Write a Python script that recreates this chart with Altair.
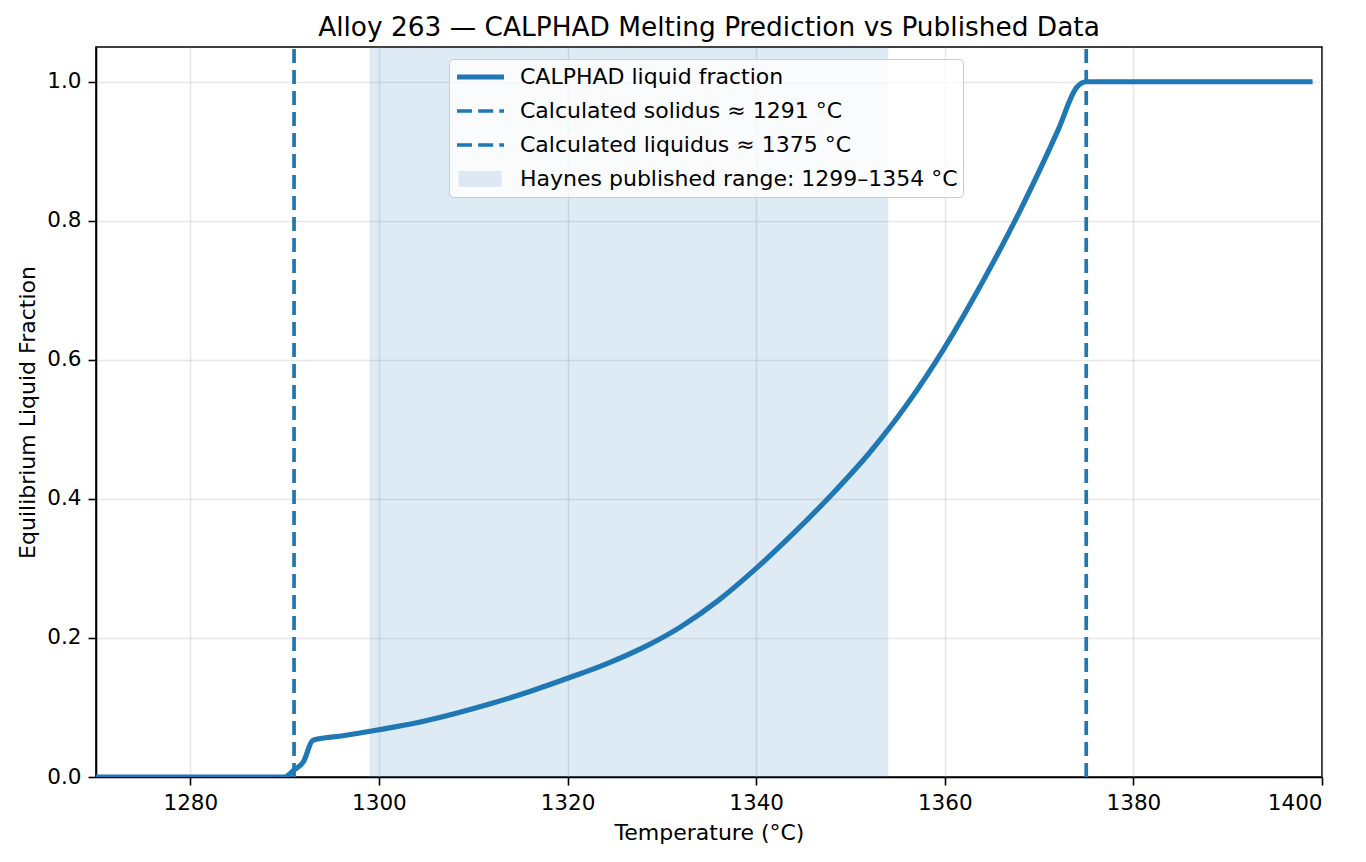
import altair as alt
import pandas as pd

# ---------------- data ----------------
TEMPS = [1270, 1290, 1291, 1292, 1293, 1296, 1300, 1304, 1308, 1312, 1316,
         1320, 1324, 1328, 1332, 1336, 1340, 1344, 1348, 1352, 1356, 1360,
         1364, 1368, 1372, 1374, 1375, 1399]
FRACTION = [0.0, 0.0, 0.010, 0.022, 0.053, 0.059, 0.068, 0.078, 0.091, 0.106,
            0.123, 0.142, 0.162, 0.186, 0.216, 0.254, 0.300, 0.351, 0.406,
            0.466, 0.536, 0.618, 0.712, 0.815, 0.930, 0.992, 1.0, 1.0]
SOLIDUS = [1291]
LIQUIDUS = [1375]
BAND_START = [1299]
BAND_END = [1354]

X_DOMAIN = [1270, 1400]
Y_DOMAIN = [0, 1.05]
X_TICKS = [1280, 1300, 1320, 1340, 1360, 1380, 1400]
Y_TICKS = [0.0, 0.2, 0.4, 0.6, 0.8, 1.0]

LEGEND_LABELS = [
    "CALPHAD liquid fraction",
    "Calculated solidus \u2248 1291 \u00b0C",
    "Calculated liquidus \u2248 1375 \u00b0C",
    "Haynes published range: 1299\u20131354 \u00b0C",
]
TITLE = "Alloy 263 \u2014 CALPHAD Melting Prediction vs Published Data"

BLUE = "#1f77b4"
PATCH = "#dde8f3"
FONT = "DejaVu Sans"

# ---------------- tables ----------------
curve_df = pd.DataFrame({"T": TEMPS, "f": FRACTION})
rules_df = pd.DataFrame({"T": SOLIDUS + LIQUIDUS})
band_df = pd.DataFrame({"T1": BAND_START, "T2": BAND_END})
legend_df = pd.DataFrame({"label": LEGEND_LABELS})

xscale = alt.Scale(domain=X_DOMAIN, nice=False, zero=False)
yscale = alt.Scale(domain=Y_DOMAIN, nice=False, zero=False)

x_axis = alt.Axis(values=X_TICKS, format="d", title="Temperature (\u00b0C)",
                  labelPadding=7, titlePadding=9, grid=True)
y_axis = alt.Axis(values=Y_TICKS, format=".1f", title="Equilibrium Liquid Fraction",
                  labelPadding=7, titlePadding=7, grid=True)

band = alt.Chart(band_df).mark_rect(color=BLUE, opacity=0.15).encode(
    x=alt.X("T1:Q", scale=xscale, axis=x_axis),
    x2="T2:Q",
    y=alt.datum(Y_DOMAIN[0], type="quantitative", scale=yscale, axis=y_axis),
    y2=alt.datum(Y_DOMAIN[1]),
)

rules = alt.Chart(rules_df).mark_rule(
    color=BLUE, strokeWidth=3.7, strokeDash=[14, 7]
).encode(
    x=alt.X("T:Q", scale=xscale, axis=x_axis),
    y=alt.datum(Y_DOMAIN[0], type="quantitative", scale=yscale, axis=y_axis),
    y2=alt.datum(Y_DOMAIN[1]),
)

curve = alt.Chart(curve_df).mark_line(
    color=BLUE, strokeWidth=5.2, clip=True, strokeJoin="round",
    interpolate="monotone",
).encode(
    x=alt.X("T:Q", scale=xscale, axis=x_axis),
    y=alt.Y("f:Q", scale=yscale, axis=y_axis),
)

SYMBOL_PATHS = [
    "M-1,0H1",
    "M-1,0H-0.36M-0.1,0H0.54M0.8,0H1",
    "M-1,0H-0.36M-0.1,0H0.54M0.8,0H1",
    "M-0.93,-0.26H0.9M-0.93,-0.13H0.9M-0.93,0H0.9M-0.93,0.13H0.9M-0.93,0.26H0.9",
]
leg = alt.Legend(
    title=None, orient="none", legendX=353, legendY=12,
    padding=5, rowPadding=8, clipHeight=26, symbolSize=2209,
    labelOffset=13, labelFont=FONT, labelFontSize=22, labelColor="black",
    labelLimit=0, fillColor="rgba(255,255,255,0.8)", strokeColor="#cccccc",
    cornerRadius=4, symbolOpacity=1,
)
legend_layer = alt.Chart(legend_df).mark_point(filled=False, opacity=0).encode(
    shape=alt.Shape("label:N", scale=alt.Scale(domain=LEGEND_LABELS, range=SYMBOL_PATHS),
                    legend=leg),
    color=alt.Color("label:N", scale=alt.Scale(domain=LEGEND_LABELS,
                                               range=[BLUE, BLUE, BLUE, PATCH]),
                    legend=leg),
    strokeWidth=alt.StrokeWidth("label:N",
                                scale=alt.Scale(type="ordinal", domain=LEGEND_LABELS,
                                                range=[5.2, 3.7, 3.7, 3.7]),
                                legend=leg),
)

chart = alt.layer(band, rules, curve, legend_layer).properties(
    width=1226, height=730,
    background="white",
    title=alt.Title(TITLE, font=FONT, fontSize=26.4, fontWeight="normal",
                    color="black", offset=4),
    autosize=alt.AutoSizeParams(type="none"),
    padding={"left": 88, "top": 39, "right": 36, "bottom": 77},
).configure_view(
    stroke="black", strokeWidth=1.6
).configure_axis(
    domainColor="black", domainWidth=1.6, tickColor="black", tickWidth=1.6,
    tickSize=8, labelFont=FONT, labelFontSize=21.5, labelColor="black",
    titleFont=FONT, titleFontSize=22, titleFontWeight="normal", titleColor="black",
    gridColor="#b0b0b0", gridOpacity=0.3, gridWidth=1.6,
)

chart.save("out.html", embed_options={"renderer": "svg", "actions": False})
